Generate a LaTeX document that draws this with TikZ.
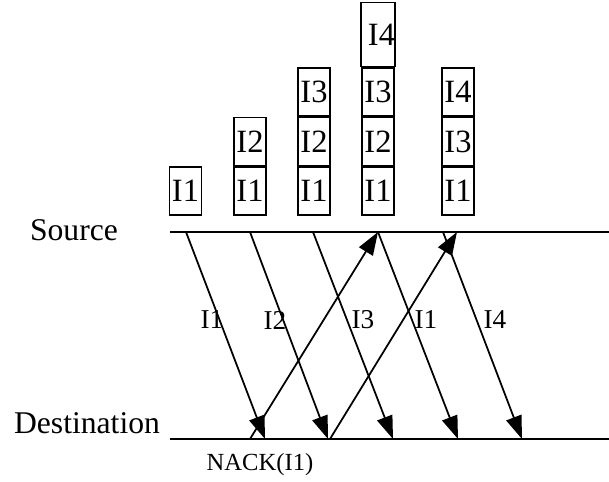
\documentclass[tikz,border=0pt]{standalone}
\usepackage{fontspec}
\setmainfont{Liberation Serif}
\usetikzlibrary{arrows.meta}

\begin{document}
\begin{tikzpicture}[x=0.02cm, y=-0.02cm,
    pkt/.style={draw, line width=0.9pt, inner sep=0pt, minimum width=0.64cm,
        minimum height=0.96cm, anchor=south, font=\fontsize{18.5}{21}\selectfont},
    lbl/.style={font=\fontsize{15.5}{18}\selectfont},
    msg/.style={line width=1pt, -{Triangle[length=0.46cm, width=0.32cm]}}]

\useasboundingbox (0,0) rectangle (609,482);

% time lines
\coordinate (srcl) at (170,232);
\coordinate (srcr) at (609,232);
\coordinate (dstl) at (170,439);
\coordinate (dstr) at (609,439);

\draw[line width=1.1pt] (srcl) -- (srcr);
\draw[line width=1.1pt] (dstl) -- (dstr);

\node[font=\fontsize{18}{21}\selectfont] (source) at (74,230) {Source};
\node[font=\fontsize{18}{21}\selectfont] (dest) at (87,423) {Destination};

% send buffers
\node[pkt] (b1a) at (185.5,216) {I1};

\node[pkt] (b2a) at (250,216) {I1};
\node[pkt] (b2b) at (b2a.north) {I2};

\node[pkt] (b3a) at (314,216) {I1};
\node[pkt] (b3b) at (b3a.north) {I2};
\node[pkt] (b3c) at (b3b.north) {I3};

\node[pkt] (b4a) at (378,216) {I1};
\node[pkt] (b4b) at (b4a.north) {I2};
\node[pkt] (b4c) at (b4b.north) {I3};
\node[pkt, minimum height=1.28cm] (b4d) at (b4c.north) {\hspace{4pt}I4};

\node[pkt] (b5a) at (458,216) {I1};
\node[pkt] (b5b) at (b5a.north) {I3};
\node[pkt] (b5c) at (b5b.north) {I4};

% frames
\coordinate (s1) at (186,232);
\coordinate (s2) at (250,232);
\coordinate (s3) at (313,232);
\coordinate (s4) at (378,232);
\coordinate (s5) at (443,232);
\coordinate (s6) at (457,232);

\coordinate (d1) at (265,439);
\coordinate (d2) at (328,439);
\coordinate (d3) at (393,439);
\coordinate (d4) at (458,439);
\coordinate (d5) at (522,439);
\coordinate (n1) at (250,439);
\coordinate (n2) at (330,439);

\draw[msg] (s1) -- (d1);
\draw[msg] (s2) -- (d2);
\draw[msg] (s3) -- (d3);
\draw[msg] (s4) -- (d4);
\draw[msg] (s5) -- (d5);

\draw[msg] (n1) -- (s4);
\draw[msg] (n2) -- (s6);

\node[lbl] (l1) at (212,320) {I1};
\node[lbl] (l2) at (275,320) {I2};
\node[lbl] (l3) at (363,320) {I3};
\node[lbl] (l4) at (426,320) {I1};
\node[lbl] (l5) at (495,320) {I4};

\node[font=\fontsize{14}{16}\selectfont] (nack) at (260,465) {NACK(I1)};

\end{tikzpicture}
\end{document}
